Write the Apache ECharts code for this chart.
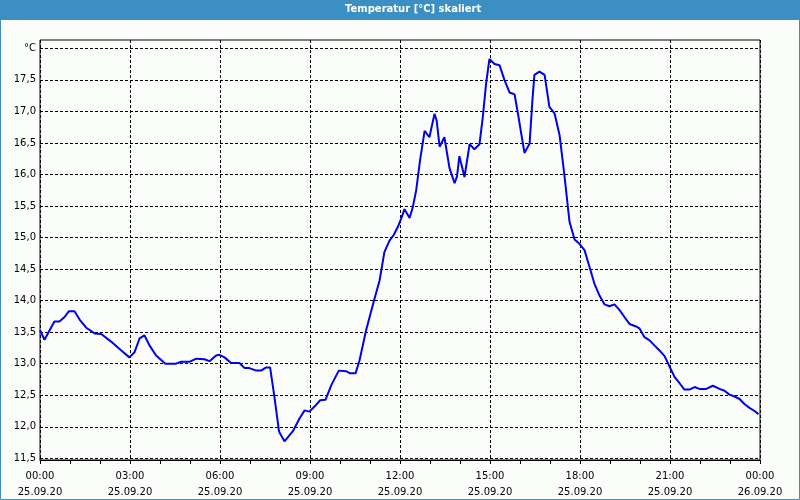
<!DOCTYPE html>
<html>
<head>
<meta charset="utf-8">
<script src="https://cdn.jsdelivr.net/npm/echarts@6/dist/echarts.min.js"></script>
<style>
html,body{margin:0;padding:0;background:#fbfdfb;}
#chart{width:800px;height:500px;}
</style>
</head>
<body>
<div id="chart"></div>
<script>
// Data (hours since 25.09.20 00:00, temperature °C)
var hours = [0.00,0.15,0.48,0.65,0.82,0.96,1.15,1.32,1.54,1.82,2.04,2.37,2.71,2.98,3.15,3.32,3.48,3.65,3.87,4.18,4.54,4.71,4.98,5.21,5.48,5.65,5.87,5.98,6.15,6.37,6.65,6.82,6.98,7.21,7.37,7.54,7.67,7.80,7.97,8.15,8.43,8.65,8.82,8.98,9.15,9.34,9.52,9.71,9.96,10.21,10.32,10.52,10.65,10.87,11.15,11.32,11.48,11.65,11.79,11.93,12.04,12.15,12.32,12.43,12.54,12.67,12.82,12.98,13.15,13.22,13.32,13.48,13.65,13.82,13.90,13.98,14.15,14.32,14.48,14.65,14.76,14.87,14.98,15.15,15.32,15.48,15.65,15.82,15.93,16.04,16.15,16.32,16.41,16.48,16.65,16.82,16.98,17.15,17.32,17.48,17.65,17.82,17.98,18.15,18.32,18.48,18.65,18.82,18.98,19.15,19.32,19.48,19.65,19.87,19.98,20.15,20.32,20.48,20.65,20.82,20.98,21.15,21.32,21.48,21.65,21.82,21.98,22.21,22.43,22.65,22.82,22.98,23.15,23.32,23.48,23.65,23.82,23.95];
var temps = [13.53,13.38,13.67,13.67,13.74,13.83,13.83,13.70,13.57,13.48,13.47,13.35,13.21,13.10,13.18,13.40,13.45,13.29,13.13,13.00,13.00,13.03,13.03,13.08,13.07,13.04,13.13,13.14,13.10,13.01,13.01,12.93,12.93,12.89,12.89,12.94,12.94,12.52,11.92,11.77,11.93,12.13,12.26,12.24,12.32,12.42,12.43,12.66,12.89,12.88,12.85,12.85,13.05,13.53,14.03,14.32,14.77,14.95,15.04,15.17,15.30,15.45,15.31,15.49,15.75,16.23,16.69,16.59,16.96,16.86,16.44,16.59,16.10,15.86,15.97,16.29,15.96,16.48,16.40,16.48,16.91,17.44,17.83,17.75,17.73,17.50,17.30,17.27,16.97,16.65,16.34,16.49,17.15,17.58,17.63,17.58,17.07,16.97,16.62,15.99,15.25,14.97,14.90,14.80,14.53,14.27,14.08,13.94,13.91,13.94,13.85,13.74,13.63,13.59,13.56,13.42,13.37,13.29,13.21,13.12,12.96,12.79,12.69,12.59,12.59,12.63,12.60,12.60,12.65,12.60,12.57,12.51,12.48,12.44,12.36,12.30,12.25,12.20];
var xTickDates = {0:'25.09.20',3:'25.09.20',6:'25.09.20',9:'25.09.20',12:'25.09.20',15:'25.09.20',18:'25.09.20',21:'25.09.20',24:'26.09.20'};
var yUnitLabel = '°C';
var titleText = 'Temperatur [°C] skaliert';

var series = hours.map(function(h,i){return [h,temps[i]];});
var font = 'DejaVu Sans';
var dash = {color:'#000',width:1,type:[3,2]};

var chart = echarts.init(document.getElementById('chart'), null, {renderer:'canvas'});
chart.setOption({
  backgroundColor:'#fbfdfb',
  animation:false,
  title:{text:titleText,left:345,top:4,padding:0,
    textStyle:{fontFamily:font,fontWeight:'bold',fontSize:10,color:'#ffffff'}},
  graphic:[
    {type:'rect',z:-1,shape:{x:0,y:0,width:800,height:20},style:{fill:'#3c8fc3'}},
    {type:'rect',z:-1,shape:{x:0.5,y:0.5,width:799,height:499},style:{fill:null,stroke:'#3c8fc3',lineWidth:1}}
  ],
  grid:[
    {left:40,right:40,top:40,bottom:40,show:true,borderColor:'#000',borderWidth:1,backgroundColor:'transparent'},
    {left:40,right:40,top:48.3,bottom:41.7}
  ],
  xAxis:[
    {type:'value',gridIndex:0,min:0,max:24,interval:3,
      axisLine:{show:true,lineStyle:{color:'#000',width:1}},
      axisTick:{show:true,length:4,lineStyle:{color:'#000'}},
      minorTick:{show:true,splitNumber:3,length:4,lineStyle:{color:'#000'}},
      splitLine:{show:true,lineStyle:dash},
      axisLabel:{margin:8,fontFamily:font,fontSize:10,color:'#000',lineHeight:16,
        formatter:function(v){var hh=(v%24);return (hh<10?'0':'')+hh+':00\n'+xTickDates[v];}}},
    {type:'value',gridIndex:1,min:0,max:24,show:false}
  ],
  yAxis:[
    {type:'value',gridIndex:0,min:0,max:1,show:false},
    {type:'value',gridIndex:1,min:11.5,max:18,interval:0.5,
      axisLine:{show:false},axisTick:{show:false},
      splitLine:{show:true,lineStyle:dash},
      axisLabel:{margin:4,fontFamily:font,fontSize:10,color:'#000',
        formatter:function(v){return Math.abs(v-18)<1e-6?yUnitLabel:v.toFixed(1).replace('.',',');}}}
  ],
  series:[{type:'line',xAxisIndex:1,yAxisIndex:1,data:series,showSymbol:false,symbol:'none',
    lineStyle:{color:'#0000ee',width:2},itemStyle:{color:'#0000ee'}}]
});
</script>
</body>
</html>
